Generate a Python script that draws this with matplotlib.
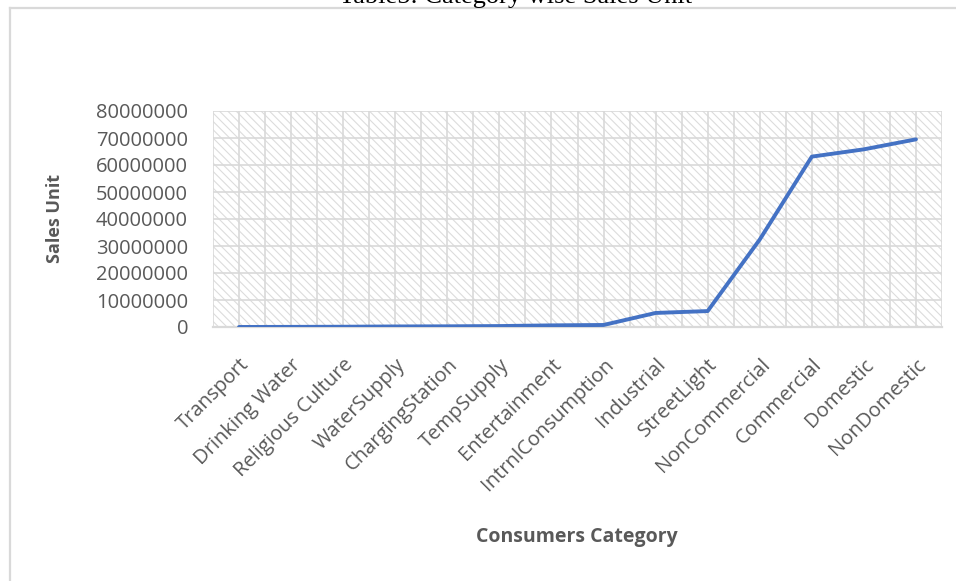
"""Category wise sales unit line chart (Excel-like style)."""
import matplotlib

matplotlib.use("Agg")
import matplotlib.pyplot as plt
from matplotlib.lines import Line2D
from matplotlib.patches import Rectangle
from matplotlib.ticker import FixedLocator
from matplotlib.transforms import ScaledTranslation

categories = [
    "Transport", "Drinking Water", "Religious Culture", "WaterSupply",
    "ChargingStation", "TempSupply", "Entertainment", "IntrnlConsumption",
    "Industrial", "StreetLight", "NonCommercial", "Commercial", "Domestic",
    "NonDomestic",
]
sales_unit = [
    10000, 50000, 100000, 200000, 250000, 350000, 600000, 750000,
    5200000, 5900000, 32400000, 63100000, 65800000, 69500000,
]
y_ticks = [0, 10000000, 20000000, 30000000, 40000000, 50000000, 60000000,
           70000000, 80000000]

GRID = "#d9d9d9"
TEXT = "#595959"
LINE = "#4472c4"
FONT = "Open Sans"

W, H = 956, 581
fig = plt.figure(figsize=(W / 100, H / 100), dpi=100)

# plot area in pixel coordinates of the reference
left, right, top, bottom = 213, 942, 111, 327
ax = fig.add_axes([left / W, 1 - bottom / H, (right - left) / W, (bottom - top) / H])

# outer chart border (only left and top edges are inside the picture)
fig.add_artist(Line2D([10 / W, 10 / W], [0, 1 - 8 / H], transform=fig.transFigure,
                      color=GRID, lw=1.6))
fig.add_artist(Line2D([10 / W, 1], [1 - 8 / H, 1 - 8 / H], transform=fig.transFigure,
                      color=GRID, lw=1.6))

# caption above the chart, cropped by the top edge as in the source
fig.text(516 / W, 1 - 3 / H, "Table5: Category wise Sales Unit", ha="center",
         va="baseline", fontsize=19, family="Liberation Serif", color="black")

x = list(range(len(categories)))

# hatched plot-area fill
plt.rcParams["hatch.color"] = "#dcdcdc"
plt.rcParams["hatch.linewidth"] = 0.8
ax.add_patch(Rectangle((0, 0), 1, 1, transform=ax.transAxes, facecolor="white",
                       edgecolor="#dcdcdc", hatch="\\\\\\\\", lw=0, zorder=0))

ax.plot(x, sales_unit, color=LINE, lw=2.8, solid_capstyle="round",
        solid_joinstyle="round", zorder=3)

ax.set_xlim(-0.5, len(categories) - 0.5)
ax.set_ylim(0, 80000000)
ax.set_yticks(y_ticks)
ax.set_yticklabels([str(v) for v in y_ticks], family=FONT, fontsize=14.5, color=TEXT)
ax.set_xticks(x)
ax.set_xticklabels(categories, rotation=45, ha="right", rotation_mode="anchor",
                   family=FONT, fontsize=14.5, color=TEXT)
# nudge the rotated labels a little to the left, like Excel places them
shift = ScaledTranslation(-6 / 100, 0, fig.dpi_scale_trans)
for lbl in ax.get_xticklabels():
    lbl.set_transform(lbl.get_transform() + shift)

# vertical gridlines at category boundaries and centres
ax.xaxis.set_minor_locator(FixedLocator([i - 0.5 for i in range(len(categories) + 1)]))
ax.grid(True, which="major", axis="both", color=GRID, lw=1.2, zorder=1)
ax.grid(True, which="minor", axis="x", color=GRID, lw=1.2, zorder=1)
ax.set_axisbelow(True)

ax.tick_params(axis="both", which="both", length=0)
ax.tick_params(axis="y", pad=18)
ax.tick_params(axis="x", pad=20)
for side in ("left", "top", "right"):
    ax.spines[side].set_visible(False)
ax.spines["bottom"].set_color(GRID)
ax.spines["bottom"].set_linewidth(1.6)

fig.text(55 / W, 1 - 218 / H, "Sales Unit", ha="center", va="center", rotation=90,
         family=FONT, fontsize=13, fontweight="bold", color=TEXT)
fig.text(577 / W, 1 - 537 / H, "Consumers Category", ha="center", va="center",
         family=FONT, fontsize=14, fontweight="bold", color=TEXT)

fig.savefig("out.png", dpi=100)
plt.close(fig)
